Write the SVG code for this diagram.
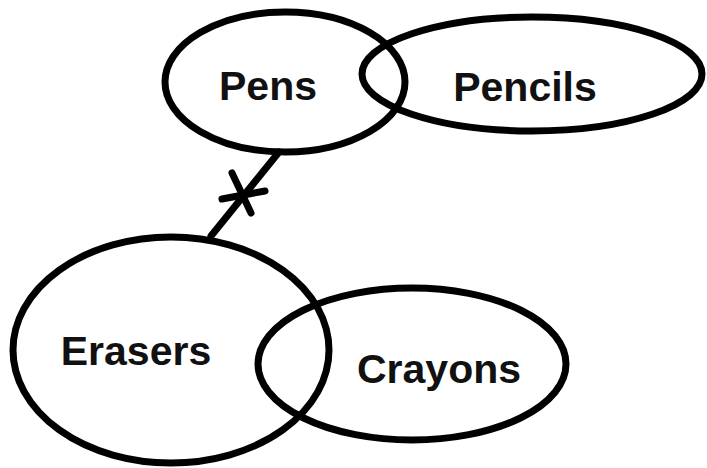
<svg xmlns="http://www.w3.org/2000/svg" width="707" height="468" viewBox="0 0 707 468">
<style>
.n{fill:none;stroke:#000;stroke-width:7}
.t{font-family:"Liberation Sans",Arial,sans-serif;font-weight:bold;font-size:41px;fill:#111;text-anchor:middle}
.c{fill:none;stroke:#000;stroke-width:7;stroke-linecap:round}
</style>
<rect width="707" height="468" fill="#fff"/>
<g id="connectors">
<line class="c" x1="279" y1="152" x2="211" y2="236"/>
<line class="c" x1="232" y1="173" x2="251" y2="213"/>
<line class="c" x1="222" y1="199" x2="265" y2="191"/>
</g>
<g id="pens">
<ellipse class="n" cx="285" cy="82" rx="120" ry="70"/>
<text class="t" x="268" y="100">Pens</text>
</g>
<g id="pencils">
<ellipse class="n" cx="532" cy="74" rx="170" ry="57"/>
<text class="t" x="525" y="101">Pencils</text>
</g>
<g id="erasers">
<ellipse class="n" cx="171" cy="350" rx="158" ry="113"/>
<text class="t" x="136" y="365">Erasers</text>
</g>
<g id="crayons">
<ellipse class="n" cx="412" cy="364" rx="154" ry="76"/>
<text class="t" x="439" y="383">Crayons</text>
</g>
</svg>
